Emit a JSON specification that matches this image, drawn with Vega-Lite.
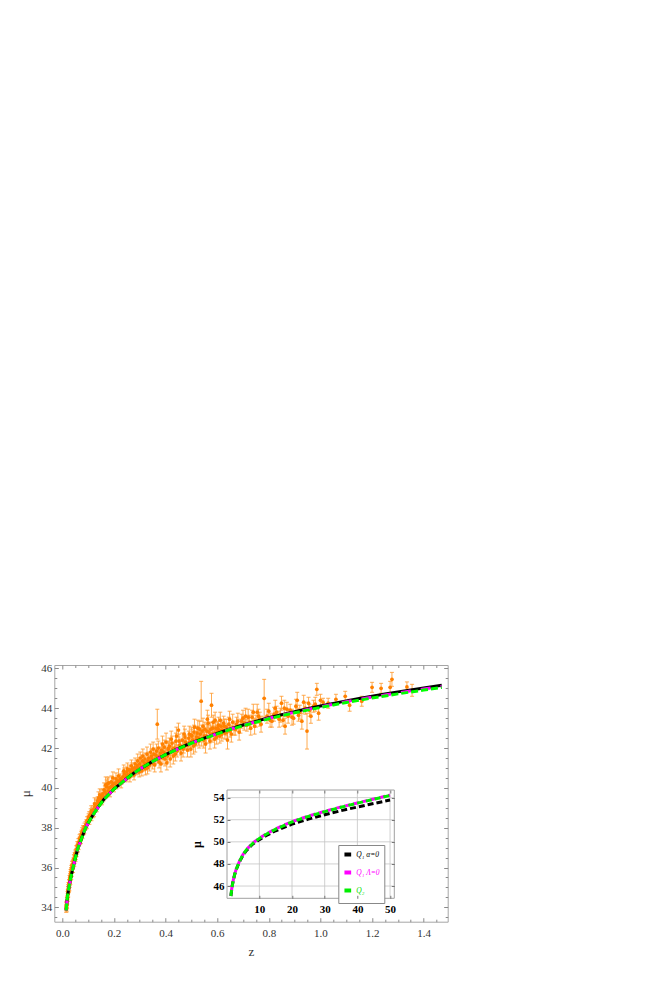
{
  "$schema": "https://vega.github.io/schema/vega-lite/v6.json",
  "width": 393.4,
  "height": 256.7,
  "autosize": "none",
  "padding": {"left": 54.3, "top": 665, "right": 206.3, "bottom": 59.3},
  "background": "white",
  "config": {
    "view": {"stroke": "#a6a6a6", "strokeWidth": 1},
    "font": "Liberation Serif",
    "axis": {"grid": false, "domain": false, "labelFlush": false, "labelOverlap": false, "tickColor": "#8a8a8a", "labelColor": "#333333", "titleColor": "#333333", "labelFont": "Liberation Serif", "titleFont": "Liberation Serif", "labelFontSize": 11, "titleFontSize": 13, "titleFontWeight": "normal"}
  },
  "datasets": {
    "pts": [
      {"z":0.015,"mu":33.95,"e":0.2},{"z":0.016,"mu":34.1,"e":0.2},{"z":0.017,"mu":34.0,"e":0.22},{"z":0.018,"mu":34.3,"e":0.2},{"z":0.019,"mu":34.35,"e":0.18},
      {"z":0.02,"mu":34.6,"e":0.2},{"z":0.021,"mu":34.5,"e":0.2},{"z":0.022,"mu":34.85,"e":0.2},{"z":0.023,"mu":34.7,"e":0.18},{"z":0.024,"mu":35.05,"e":0.2},
      {"z":0.025,"mu":34.95,"e":0.2},{"z":0.026,"mu":35.2,"e":0.18},{"z":0.027,"mu":35.05,"e":0.2},{"z":0.028,"mu":35.4,"e":0.2},{"z":0.029,"mu":35.3,"e":0.2},
      {"z":0.03,"mu":35.5,"e":0.18},{"z":0.031,"mu":35.35,"e":0.2},{"z":0.032,"mu":35.7,"e":0.2},{"z":0.033,"mu":35.55,"e":0.18},{"z":0.034,"mu":35.8,"e":0.2},
      {"z":0.035,"mu":35.9,"e":0.2},{"z":0.036,"mu":35.75,"e":0.2},{"z":0.037,"mu":36.0,"e":0.18},{"z":0.038,"mu":36.1,"e":0.2},{"z":0.04,"mu":36.15,"e":0.2},
      {"z":0.041,"mu":35.95,"e":0.2},{"z":0.043,"mu":36.3,"e":0.18},{"z":0.045,"mu":36.45,"e":0.2},{"z":0.046,"mu":36.25,"e":0.2},{"z":0.048,"mu":36.55,"e":0.2},
      {"z":0.05,"mu":36.7,"e":0.18},{"z":0.052,"mu":36.6,"e":0.2},{"z":0.054,"mu":36.9,"e":0.2},{"z":0.056,"mu":36.85,"e":0.18},{"z":0.058,"mu":37.1,"e":0.2},
      {"z":0.06,"mu":37.0,"e":0.2},{"z":0.062,"mu":37.25,"e":0.2},{"z":0.065,"mu":37.3,"e":0.18},{"z":0.067,"mu":37.45,"e":0.2},{"z":0.07,"mu":37.5,"e":0.2},
      {"z":0.072,"mu":37.4,"e":0.2},{"z":0.075,"mu":37.7,"e":0.18},{"z":0.078,"mu":37.65,"e":0.2},{"z":0.08,"mu":37.9,"e":0.2},{"z":0.083,"mu":37.85,"e":0.2},
      {"z":0.086,"mu":38.05,"e":0.18},{"z":0.09,"mu":38.1,"e":0.2},{"z":0.093,"mu":38.2,"e":0.2},{"z":0.096,"mu":38.35,"e":0.2},{"z":0.1,"mu":38.4,"e":0.18},
      {"z":0.0155,"mu":34.05,"e":0.2},{"z":0.0185,"mu":34.15,"e":0.2},{"z":0.0215,"mu":34.7,"e":0.2},{"z":0.0235,"mu":34.95,"e":0.2},{"z":0.0265,"mu":35.0,"e":0.2},
      {"z":0.0285,"mu":35.2,"e":0.2},{"z":0.0315,"mu":35.6,"e":0.2},{"z":0.0345,"mu":35.6,"e":0.2},{"z":0.039,"mu":35.95,"e":0.2},{"z":0.042,"mu":36.2,"e":0.2},
      {"z":0.047,"mu":36.4,"e":0.2},{"z":0.051,"mu":36.5,"e":0.2},{"z":0.055,"mu":36.75,"e":0.2},{"z":0.059,"mu":36.95,"e":0.2},{"z":0.063,"mu":37.1,"e":0.2},
      {"z":0.068,"mu":37.35,"e":0.2},{"z":0.073,"mu":37.6,"e":0.2},{"z":0.077,"mu":37.8,"e":0.2},{"z":0.085,"mu":37.9,"e":0.2},{"z":0.095,"mu":38.15,"e":0.2},
      {"z":0.102,"mu":38.5,"e":0.2},{"z":0.105,"mu":38.35,"e":0.18},{"z":0.108,"mu":38.6,"e":0.2},{"z":0.11,"mu":38.7,"e":0.25},{"z":0.113,"mu":38.55,"e":0.2},
      {"z":0.116,"mu":38.8,"e":0.2},{"z":0.12,"mu":38.9,"e":0.2},{"z":0.123,"mu":38.75,"e":0.2},{"z":0.126,"mu":39.05,"e":0.2},{"z":0.13,"mu":39.15,"e":0.25},
      {"z":0.133,"mu":39.0,"e":0.2},{"z":0.137,"mu":39.35,"e":0.2},{"z":0.14,"mu":39.5,"e":0.3},{"z":0.143,"mu":39.3,"e":0.2},{"z":0.147,"mu":39.45,"e":0.2},
      {"z":0.15,"mu":39.6,"e":0.3},{"z":0.153,"mu":39.35,"e":0.2},{"z":0.157,"mu":39.7,"e":0.25},{"z":0.16,"mu":39.55,"e":0.2},{"z":0.165,"mu":39.8,"e":0.3},
      {"z":0.17,"mu":39.7,"e":0.2},{"z":0.172,"mu":40.05,"e":0.35},{"z":0.175,"mu":40.2,"e":0.3},{"z":0.178,"mu":39.85,"e":0.2},{"z":0.182,"mu":40.0,"e":0.25},
      {"z":0.185,"mu":39.75,"e":0.2},{"z":0.19,"mu":40.3,"e":0.3},{"z":0.193,"mu":40.1,"e":0.25},{"z":0.196,"mu":40.5,"e":0.3},{"z":0.2,"mu":40.0,"e":0.2},
      {"z":0.205,"mu":40.25,"e":0.25},{"z":0.21,"mu":40.15,"e":0.2},{"z":0.215,"mu":40.35,"e":0.25},{"z":0.22,"mu":40.3,"e":0.2},{"z":0.225,"mu":40.45,"e":0.25},
      {"z":0.23,"mu":40.4,"e":0.2},{"z":0.235,"mu":40.55,"e":0.25},{"z":0.24,"mu":40.7,"e":0.3},{"z":0.245,"mu":40.5,"e":0.2},{"z":0.25,"mu":40.8,"e":0.25},
      {"z":0.255,"mu":40.65,"e":0.2},{"z":0.26,"mu":40.9,"e":0.25},{"z":0.265,"mu":40.75,"e":0.2},{"z":0.27,"mu":40.95,"e":0.3},{"z":0.275,"mu":40.8,"e":0.25},
      {"z":0.28,"mu":41.0,"e":0.25},{"z":0.285,"mu":40.85,"e":0.2},{"z":0.29,"mu":41.1,"e":0.3},{"z":0.295,"mu":40.95,"e":0.25},{"z":0.3,"mu":41.2,"e":0.3},
      {"z":0.104,"mu":38.6,"e":0.2},{"z":0.112,"mu":38.85,"e":0.25},{"z":0.118,"mu":38.7,"e":0.2},{"z":0.125,"mu":39.2,"e":0.3},{"z":0.135,"mu":39.2,"e":0.25},
      {"z":0.145,"mu":39.65,"e":0.3},{"z":0.155,"mu":39.5,"e":0.25},{"z":0.162,"mu":39.9,"e":0.35},{"z":0.168,"mu":40.15,"e":0.4},{"z":0.18,"mu":40.25,"e":0.3},
      {"z":0.188,"mu":40.05,"e":0.25},{"z":0.198,"mu":40.2,"e":0.3},{"z":0.208,"mu":40.45,"e":0.3},{"z":0.218,"mu":40.6,"e":0.35},{"z":0.228,"mu":40.25,"e":0.25},
      {"z":0.238,"mu":40.85,"e":0.3},{"z":0.248,"mu":40.6,"e":0.25},{"z":0.252,"mu":40.95,"e":0.3},{"z":0.262,"mu":40.55,"e":0.25},{"z":0.268,"mu":41.1,"e":0.3},
      {"z":0.278,"mu":40.65,"e":0.25},{"z":0.282,"mu":41.2,"e":0.3},{"z":0.288,"mu":40.95,"e":0.25},{"z":0.292,"mu":41.35,"e":0.35},{"z":0.298,"mu":40.8,"e":0.25},
      {"z":0.305,"mu":41.05,"e":0.25},{"z":0.31,"mu":41.35,"e":0.3},{"z":0.315,"mu":41.1,"e":0.25},{"z":0.32,"mu":41.45,"e":0.3},{"z":0.325,"mu":41.2,"e":0.25},
      {"z":0.33,"mu":41.0,"e":0.3},{"z":0.335,"mu":41.5,"e":0.3},{"z":0.34,"mu":41.3,"e":0.25},{"z":0.345,"mu":41.6,"e":0.35},{"z":0.35,"mu":41.25,"e":0.3},
      {"z":0.355,"mu":41.7,"e":0.3},{"z":0.36,"mu":41.45,"e":0.25},{"z":0.365,"mu":41.85,"e":0.35},{"z":0.368,"mu":43.2,"e":0.75},{"z":0.37,"mu":41.55,"e":0.3},
      {"z":0.375,"mu":41.3,"e":0.3},{"z":0.38,"mu":41.75,"e":0.3},{"z":0.385,"mu":41.9,"e":0.35},{"z":0.39,"mu":41.5,"e":0.3},{"z":0.395,"mu":42.05,"e":0.35},
      {"z":0.4,"mu":41.7,"e":0.3},{"z":0.405,"mu":41.25,"e":0.35},{"z":0.41,"mu":41.95,"e":0.3},{"z":0.415,"mu":42.1,"e":0.4},{"z":0.42,"mu":41.8,"e":0.3},
      {"z":0.425,"mu":42.25,"e":0.35},{"z":0.43,"mu":41.6,"e":0.4},{"z":0.435,"mu":42.0,"e":0.3},{"z":0.44,"mu":42.35,"e":0.4},{"z":0.445,"mu":41.85,"e":0.3},
      {"z":0.45,"mu":42.9,"e":0.35},{"z":0.455,"mu":42.15,"e":0.3},{"z":0.46,"mu":41.75,"e":0.4},{"z":0.465,"mu":42.4,"e":0.35},{"z":0.47,"mu":42.05,"e":0.3},
      {"z":0.475,"mu":42.55,"e":0.4},{"z":0.48,"mu":42.2,"e":0.3},{"z":0.485,"mu":41.9,"e":0.35},{"z":0.49,"mu":42.5,"e":0.35},{"z":0.495,"mu":42.3,"e":0.3},
      {"z":0.5,"mu":42.65,"e":0.4},
      {"z":0.302,"mu":41.5,"e":0.3},{"z":0.308,"mu":40.85,"e":0.25},{"z":0.312,"mu":41.6,"e":0.35},{"z":0.318,"mu":41.25,"e":0.3},{"z":0.322,"mu":40.95,"e":0.3},
      {"z":0.328,"mu":41.7,"e":0.35},{"z":0.332,"mu":41.35,"e":0.3},{"z":0.338,"mu":41.15,"e":0.3},{"z":0.342,"mu":41.8,"e":0.4},{"z":0.348,"mu":41.45,"e":0.3},
      {"z":0.352,"mu":41.95,"e":0.35},{"z":0.358,"mu":41.15,"e":0.35},{"z":0.362,"mu":41.65,"e":0.3},{"z":0.372,"mu":42.0,"e":0.35},{"z":0.378,"mu":41.6,"e":0.3},
      {"z":0.382,"mu":41.2,"e":0.4},{"z":0.388,"mu":42.2,"e":0.4},{"z":0.392,"mu":41.8,"e":0.3},{"z":0.398,"mu":41.45,"e":0.35},{"z":0.402,"mu":42.3,"e":0.45},
      {"z":0.408,"mu":41.6,"e":0.3},{"z":0.412,"mu":42.0,"e":0.35},{"z":0.418,"mu":41.45,"e":0.4},{"z":0.422,"mu":42.45,"e":0.4},{"z":0.428,"mu":41.95,"e":0.3},
      {"z":0.438,"mu":41.7,"e":0.35},{"z":0.442,"mu":42.6,"e":0.45},{"z":0.452,"mu":42.35,"e":0.35},{"z":0.458,"mu":42.0,"e":0.35},{"z":0.468,"mu":41.95,"e":0.4},
      {"z":0.472,"mu":42.7,"e":0.4},{"z":0.478,"mu":42.3,"e":0.35},{"z":0.488,"mu":42.15,"e":0.3},{"z":0.492,"mu":42.7,"e":0.4},{"z":0.498,"mu":41.95,"e":0.4},
      {"z":0.505,"mu":42.4,"e":0.3},{"z":0.51,"mu":42.8,"e":0.35},{"z":0.515,"mu":42.2,"e":0.4},{"z":0.52,"mu":42.55,"e":0.3},
      {"z":0.525,"mu":43.0,"e":0.4},{"z":0.53,"mu":42.35,"e":0.35},{"z":0.535,"mu":42.7,"e":0.3},{"z":0.538,"mu":44.35,"e":1.0},{"z":0.54,"mu":42.45,"e":0.35},
      {"z":0.545,"mu":43.1,"e":0.4},{"z":0.55,"mu":42.6,"e":0.3},{"z":0.555,"mu":42.2,"e":0.45},{"z":0.56,"mu":42.85,"e":0.35},{"z":0.565,"mu":43.25,"e":0.4},
      {"z":0.57,"mu":42.55,"e":0.3},{"z":0.575,"mu":42.95,"e":0.35},{"z":0.578,"mu":44.15,"e":0.6},{"z":0.58,"mu":42.7,"e":0.4},{"z":0.585,"mu":43.3,"e":0.35},
      {"z":0.59,"mu":42.45,"e":0.45},{"z":0.595,"mu":43.0,"e":0.3},{"z":0.6,"mu":42.8,"e":0.35},{"z":0.605,"mu":43.15,"e":0.4},{"z":0.61,"mu":42.6,"e":0.35},
      {"z":0.615,"mu":43.1,"e":0.3},{"z":0.62,"mu":42.9,"e":0.4},{"z":0.625,"mu":43.25,"e":0.35},{"z":0.63,"mu":42.75,"e":0.3},{"z":0.635,"mu":43.05,"e":0.4},
      {"z":0.64,"mu":42.4,"e":0.45},{"z":0.645,"mu":43.2,"e":0.35},{"z":0.65,"mu":42.85,"e":0.3},{"z":0.66,"mu":43.3,"e":0.4},{"z":0.665,"mu":43.0,"e":0.35},
      {"z":0.67,"mu":42.95,"e":0.3},{"z":0.68,"mu":43.35,"e":0.4},{"z":0.69,"mu":43.1,"e":0.35},{"z":0.7,"mu":43.5,"e":0.4},
      {"z":0.502,"mu":42.6,"e":0.35},{"z":0.508,"mu":42.1,"e":0.4},{"z":0.512,"mu":43.05,"e":0.4},{"z":0.518,"mu":42.4,"e":0.3},{"z":0.522,"mu":42.75,"e":0.35},
      {"z":0.528,"mu":42.5,"e":0.35},{"z":0.532,"mu":42.95,"e":0.4},{"z":0.542,"mu":42.85,"e":0.3},{"z":0.548,"mu":42.4,"e":0.4},{"z":0.552,"mu":42.95,"e":0.35},
      {"z":0.558,"mu":42.6,"e":0.35},{"z":0.562,"mu":43.45,"e":0.45},{"z":0.568,"mu":42.8,"e":0.35},{"z":0.572,"mu":42.35,"e":0.4},{"z":0.582,"mu":43.0,"e":0.3},
      {"z":0.588,"mu":42.75,"e":0.35},{"z":0.592,"mu":43.4,"e":0.4},{"z":0.598,"mu":42.55,"e":0.35},{"z":0.602,"mu":43.0,"e":0.35},{"z":0.608,"mu":42.9,"e":0.3},
      {"z":0.612,"mu":43.4,"e":0.4},{"z":0.618,"mu":42.7,"e":0.35},{"z":0.628,"mu":43.1,"e":0.35},{"z":0.638,"mu":42.8,"e":0.35},{"z":0.648,"mu":43.45,"e":0.4},
      {"z":0.655,"mu":42.7,"e":0.4},{"z":0.675,"mu":43.2,"e":0.35},{"z":0.685,"mu":42.8,"e":0.4},{"z":0.695,"mu":43.35,"e":0.35},
      {"z":0.705,"mu":43.25,"e":0.35},{"z":0.715,"mu":43.15,"e":0.3},{"z":0.72,"mu":43.55,"e":0.4},{"z":0.73,"mu":43.0,"e":0.35},{"z":0.74,"mu":43.8,"e":0.4},
      {"z":0.75,"mu":43.35,"e":0.3},{"z":0.76,"mu":43.6,"e":0.35},{"z":0.77,"mu":43.2,"e":0.4},{"z":0.782,"mu":44.5,"e":0.95},{"z":0.793,"mu":43.6,"e":0.35},
      {"z":0.8,"mu":43.85,"e":0.4},{"z":0.812,"mu":43.35,"e":0.3},{"z":0.82,"mu":43.7,"e":0.35},{"z":0.83,"mu":43.8,"e":0.3},{"z":0.84,"mu":43.45,"e":0.4},
      {"z":0.849,"mu":44.25,"e":0.35},{"z":0.855,"mu":43.4,"e":0.3},{"z":0.863,"mu":43.1,"e":0.4},{"z":0.87,"mu":43.95,"e":0.35},{"z":0.883,"mu":43.9,"e":0.3},
      {"z":0.89,"mu":43.55,"e":0.4},{"z":0.896,"mu":43.5,"e":0.3},{"z":0.905,"mu":44.1,"e":0.35},{"z":0.915,"mu":43.65,"e":0.3},{"z":0.928,"mu":43.35,"e":0.4},
      {"z":0.935,"mu":44.3,"e":0.35},{"z":0.941,"mu":44.0,"e":0.3},{"z":0.948,"mu":42.85,"e":0.9},{"z":0.954,"mu":44.25,"e":0.3},{"z":0.963,"mu":43.6,"e":0.35},
      {"z":0.973,"mu":44.1,"e":0.3},{"z":0.986,"mu":44.95,"e":0.3},{"z":0.993,"mu":43.75,"e":0.35},{"z":1.0,"mu":44.4,"e":0.3},
      {"z":0.71,"mu":43.6,"e":0.4},{"z":0.725,"mu":43.3,"e":0.35},{"z":0.735,"mu":43.55,"e":0.35},{"z":0.745,"mu":43.1,"e":0.4},{"z":0.755,"mu":43.8,"e":0.4},
      {"z":0.765,"mu":43.45,"e":0.35},{"z":0.805,"mu":43.4,"e":0.35},{"z":0.825,"mu":44.0,"e":0.4},{"z":0.845,"mu":43.65,"e":0.35},{"z":0.86,"mu":44.0,"e":0.4},
      {"z":0.875,"mu":43.6,"e":0.35},{"z":0.91,"mu":44.4,"e":0.4},{"z":0.92,"mu":43.8,"e":0.35},{"z":0.958,"mu":43.9,"e":0.3},{"z":0.98,"mu":44.2,"e":0.35},
      {"z":1.01,"mu":44.3,"e":0.2},{"z":1.03,"mu":44.25,"e":0.25},{"z":1.06,"mu":44.45,"e":0.25},{"z":1.096,"mu":44.6,"e":0.25},{"z":1.113,"mu":44.15,"e":0.3},
      {"z":1.16,"mu":44.35,"e":0.25},{"z":1.2,"mu":45.05,"e":0.25},{"z":1.235,"mu":45.0,"e":0.25},{"z":1.27,"mu":45.05,"e":0.3},{"z":1.277,"mu":45.45,"e":0.35},
      {"z":1.335,"mu":45.07,"e":0.25},{"z":1.355,"mu":44.9,"e":0.3}
    ],
    "mc": [
      {"z":0.015,"k":33.85,"m":33.85,"g":33.85},{"z":0.0175,"k":34.25,"m":34.25,"g":34.25},{"z":0.02,"k":34.55,"m":34.55,"g":34.55},
      {"z":0.025,"k":34.95,"m":34.95,"g":34.95},{"z":0.03,"k":35.3,"m":35.3,"g":35.3},{"z":0.035,"k":35.62,"m":35.62,"g":35.62},
      {"z":0.04,"k":35.9,"m":35.9,"g":35.9},{"z":0.045,"k":36.17,"m":36.17,"g":36.17},{"z":0.05,"k":36.45,"m":36.45,"g":36.45},
      {"z":0.06,"k":36.95,"m":36.95,"g":36.95},{"z":0.07,"k":37.3,"m":37.3,"g":37.3},{"z":0.08,"k":37.65,"m":37.65,"g":37.65},
      {"z":0.09,"k":37.98,"m":37.98,"g":37.98},{"z":0.1,"k":38.22,"m":38.22,"g":38.22},{"z":0.11,"k":38.45,"m":38.45,"g":38.45},
      {"z":0.12,"k":38.66,"m":38.66,"g":38.66},{"z":0.14,"k":39.05,"m":39.05,"g":39.05},{"z":0.16,"k":39.4,"m":39.4,"g":39.4},
      {"z":0.18,"k":39.67,"m":39.67,"g":39.67},{"z":0.2,"k":39.94,"m":39.94,"g":39.94},{"z":0.225,"k":40.2,"m":40.2,"g":40.2},
      {"z":0.25,"k":40.47,"m":40.47,"g":40.47},{"z":0.275,"k":40.72,"m":40.72,"g":40.72},{"z":0.3,"k":40.94,"m":40.94,"g":40.94},
      {"z":0.35,"k":41.33,"m":41.33,"g":41.33},{"z":0.4,"k":41.67,"m":41.67,"g":41.67},{"z":0.45,"k":41.98,"m":41.975,"g":41.97},
      {"z":0.5,"k":42.26,"m":42.25,"g":42.24},{"z":0.55,"k":42.5,"m":42.49,"g":42.48},{"z":0.6,"k":42.74,"m":42.725,"g":42.71},
      {"z":0.65,"k":42.96,"m":42.945,"g":42.93},{"z":0.7,"k":43.16,"m":43.14,"g":43.12},{"z":0.75,"k":43.34,"m":43.32,"g":43.295},
      {"z":0.8,"k":43.52,"m":43.495,"g":43.47},{"z":0.85,"k":43.68,"m":43.65,"g":43.625},{"z":0.9,"k":43.83,"m":43.8,"g":43.77},
      {"z":0.95,"k":43.97,"m":43.94,"g":43.905},{"z":1.0,"k":44.11,"m":44.075,"g":44.04},{"z":1.05,"k":44.24,"m":44.2,"g":44.165},
      {"z":1.1,"k":44.37,"m":44.33,"g":44.29},{"z":1.15,"k":44.49,"m":44.45,"g":44.405},{"z":1.2,"k":44.6,"m":44.555,"g":44.51},
      {"z":1.25,"k":44.71,"m":44.66,"g":44.615},{"z":1.3,"k":44.82,"m":44.77,"g":44.72},{"z":1.35,"k":44.92,"m":44.87,"g":44.815},
      {"z":1.4,"k":45.02,"m":44.965,"g":44.91},{"z":1.47,"k":45.15,"m":45.095,"g":45.04}
    ],
    "ic": [
      {"x":1.3,"k":45.1,"m":45.12,"g":45.1},{"x":1.6,"k":45.85,"m":45.87,"g":45.85},{"x":2,"k":46.5,"m":46.52,"g":46.5},
      {"x":2.5,"k":47.1,"m":47.12,"g":47.1},{"x":3,"k":47.55,"m":47.6,"g":47.58},{"x":4,"k":48.25,"m":48.3,"g":48.28},
      {"x":5,"k":48.8,"m":48.86,"g":48.84},{"x":6,"k":49.2,"m":49.28,"g":49.26},{"x":8,"k":49.8,"m":49.9,"g":49.87},
      {"x":10,"k":50.2,"m":50.33,"g":50.3},{"x":12,"k":50.55,"m":50.7,"g":50.67},{"x":15,"k":51.0,"m":51.18,"g":51.15},
      {"x":20,"k":51.6,"m":51.83,"g":51.8},{"x":25,"k":52.05,"m":52.33,"g":52.3},{"x":30,"k":52.45,"m":52.76,"g":52.73},
      {"x":35,"k":52.82,"m":53.16,"g":53.13},{"x":40,"k":53.15,"m":53.52,"g":53.5},{"x":45,"k":53.47,"m":53.87,"g":53.85},
      {"x":50,"k":53.78,"m":54.23,"g":54.2}
    ],
    "gx": [{"v":10},{"v":20},{"v":30},{"v":40},{"v":50}],
    "gy": [{"v":46},{"v":48},{"v":50},{"v":52},{"v":54}]
  },
  "layer": [
    {
      "layer": [
        {
          "data": {"name": "pts"},
          "mark": {"type": "errorbar", "ticks": {"size": 4}, "color": "#ff9c33", "opacity": 0.85},
          "encoding": {
            "x": {"field": "z", "type": "quantitative", "scale": {"domain": [-0.031, 1.493], "nice": false, "zero": false}, "axis": null},
            "y": {"field": "mu", "type": "quantitative", "scale": {"domain": [33.28, 46.17], "nice": false, "zero": false}, "axis": null},
            "yError": {"field": "e"}
          }
        },
        {
          "data": {"name": "pts"},
          "mark": {"type": "circle", "size": 14, "color": "#ff8000", "opacity": 1},
          "encoding": {
            "x": {"field": "z", "type": "quantitative", "scale": {"domain": [-0.031, 1.493], "nice": false, "zero": false},
              "axis": {"orient": "bottom", "title": "z", "values": [0, 0.2, 0.4, 0.6, 0.8, 1.0, 1.2, 1.4], "format": ".1f", "tickSize": -4, "labelPadding": 10, "titlePadding": 7}},
            "y": {"field": "mu", "type": "quantitative", "scale": {"domain": [33.28, 46.17], "nice": false, "zero": false},
              "axis": {"orient": "left", "title": "μ", "values": [34, 36, 38, 40, 42, 44, 46], "tickSize": -4, "labelPadding": 6.6, "titlePadding": 8}}
          }
        },
        {
          "data": {"name": "mc"},
          "mark": {"type": "line", "color": "black", "strokeWidth": 3},
          "encoding": {
            "x": {"field": "z", "type": "quantitative", "scale": {"domain": [-0.031, 1.493], "nice": false, "zero": false},
              "axis": {"orient": "top", "title": null, "labels": false, "values": [0, 0.2, 0.4, 0.6, 0.8, 1.0, 1.2, 1.4], "tickSize": -4}},
            "y": {"field": "k", "type": "quantitative", "scale": {"domain": [33.28, 46.17], "nice": false, "zero": false},
              "axis": {"orient": "right", "title": null, "labels": false, "values": [34, 36, 38, 40, 42, 44, 46], "tickSize": -4}}
          }
        },
        {
          "data": {"name": "mc"},
          "mark": {"type": "line", "color": "#ff00ff", "strokeWidth": 3, "strokeDash": [10, 10]},
          "encoding": {
            "x": {"field": "z", "type": "quantitative", "scale": {"domain": [-0.031, 1.493], "nice": false, "zero": false},
              "axis": {"orient": "bottom", "title": null, "labels": false, "values": [0.05, 0.1, 0.15, 0.25, 0.3, 0.35, 0.45, 0.5, 0.55, 0.65, 0.7, 0.75, 0.85, 0.9, 0.95, 1.05, 1.1, 1.15, 1.25, 1.3, 1.35, 1.45], "tickSize": -2.5}},
            "y": {"field": "m", "type": "quantitative", "scale": {"domain": [33.28, 46.17], "nice": false, "zero": false},
              "axis": {"orient": "left", "title": null, "labels": false, "values": [33.5, 34.5, 35, 35.5, 36.5, 37, 37.5, 38.5, 39, 39.5, 40.5, 41, 41.5, 42.5, 43, 43.5, 44.5, 45, 45.5], "tickSize": -2.5}}
          }
        },
        {
          "data": {"name": "mc"},
          "mark": {"type": "line", "color": "#00ff00", "strokeWidth": 3, "strokeDash": [7, 3]},
          "encoding": {
            "x": {"field": "z", "type": "quantitative", "scale": {"domain": [-0.031, 1.493], "nice": false, "zero": false},
              "axis": {"orient": "top", "title": null, "labels": false, "values": [0.05, 0.1, 0.15, 0.25, 0.3, 0.35, 0.45, 0.5, 0.55, 0.65, 0.7, 0.75, 0.85, 0.9, 0.95, 1.05, 1.1, 1.15, 1.25, 1.3, 1.35, 1.45], "tickSize": -2.5}},
            "y": {"field": "g", "type": "quantitative", "scale": {"domain": [33.28, 46.17], "nice": false, "zero": false},
              "axis": {"orient": "right", "title": null, "labels": false, "values": [33.5, 34.5, 35, 35.5, 36.5, 37, 37.5, 38.5, 39, 39.5, 40.5, 41, 41.5, 42.5, 43, 43.5, 44.5, 45, 45.5], "tickSize": -2.5}}
          }
        }
      ],
      "resolve": {"axis": {"x": "independent", "y": "independent"}}
    },
    {
      "layer": [
        {
          "data": {"values": [{}]},
          "mark": {"type": "rect", "fill": "white", "stroke": "#a0a0a0", "strokeWidth": 1},
          "encoding": {
            "x": {"datum": 0.1, "type": "quantitative", "scale": {"domain": [0.1, 51.3], "range": [172.7, 340], "nice": false, "zero": false}, "axis": null},
            "x2": {"datum": 51.3},
            "y": {"datum": 44.89, "type": "quantitative", "scale": {"domain": [44.89, 54.69], "range": [233.3, 125], "nice": false, "zero": false}, "axis": null},
            "y2": {"datum": 54.69}
          }
        },
        {
          "data": {"name": "gx"},
          "mark": {"type": "rule", "color": "#c4c4c4", "strokeWidth": 0.8},
          "encoding": {
            "x": {"field": "v", "type": "quantitative", "scale": {"domain": [0.1, 51.3], "range": [172.7, 340], "nice": false, "zero": false}, "axis": null},
            "y": {"datum": 44.89, "type": "quantitative", "scale": {"domain": [44.89, 54.69], "range": [233.3, 125], "nice": false, "zero": false}, "axis": null},
            "y2": {"datum": 54.69}
          }
        },
        {
          "data": {"name": "gy"},
          "mark": {"type": "rule", "color": "#c4c4c4", "strokeWidth": 0.8},
          "encoding": {
            "y": {"field": "v", "type": "quantitative", "scale": {"domain": [44.89, 54.69], "range": [233.3, 125], "nice": false, "zero": false}, "axis": null},
            "x": {"datum": 0.1, "type": "quantitative", "scale": {"domain": [0.1, 51.3], "range": [172.7, 340], "nice": false, "zero": false}, "axis": null},
            "x2": {"datum": 51.3}
          }
        },
        {
          "data": {"name": "ic"},
          "mark": {"type": "line", "strokeWidth": 3, "strokeDash": [6, 3]},
          "encoding": {
            "x": {"field": "x", "type": "quantitative", "scale": {"domain": [0.1, 51.3], "range": [172.7, 340], "nice": false, "zero": false},
              "axis": {"orient": "bottom", "offset": -23.4, "zindex": 1, "title": null, "values": [10, 20, 30, 40, 50], "tickSize": -3, "labelPadding": 8.5, "labelFontWeight": "bold", "labelColor": "black", "tickColor": "#777777"}},
            "y": {"field": "k", "type": "quantitative", "scale": {"domain": [44.89, 54.69], "range": [233.3, 125], "nice": false, "zero": false},
              "axis": {"orient": "left", "offset": -172.7, "zindex": 1, "title": "μ", "values": [46, 48, 50, 52, 54], "tickSize": -3, "labelPadding": 6, "labelFontWeight": "bold", "labelColor": "black", "tickColor": "#777777", "titleFontWeight": "bold", "titleColor": "black", "titleFontSize": 12, "titlePadding": 10}},
            "color": {"datum": "Q₁ α=0", "type": "nominal",
              "scale": {"domain": ["Q₁ α=0", "Q₁ Λ=0", "Q₂"], "range": ["#000000", "#ff00ff", "#00ee00"]},
              "legend": {"orient": "none", "legendX": 284, "legendY": 180, "title": null, "symbolType": "stroke", "symbolStrokeWidth": 4, "symbolSize": 45,
                "labelFont": "Liberation Serif", "labelFontStyle": "italic", "labelFontSize": 7.5, "labelOffset": 3, "strokeColor": "#888888", "fillColor": "white", "padding": 4, "rowPadding": 1,
                "encode": {"labels": {"update": {"fill": {"signal": "datum.value === 'Q₂' ? '#00dd00' : (indexof(datum.value, 'Λ') >= 0 ? '#ff00ff' : '#000000')"}}}}}}
          }
        },
        {
          "data": {"name": "ic"},
          "mark": {"type": "line", "strokeWidth": 3, "strokeDash": [6, 3], "strokeDashOffset": 4},
          "encoding": {
            "x": {"field": "x", "type": "quantitative", "scale": {"domain": [0.1, 51.3], "range": [172.7, 340], "nice": false, "zero": false},
              "axis": {"orient": "top", "offset": -125, "zindex": 1, "title": null, "labels": false, "values": [10, 20, 30, 40, 50], "tickSize": -3, "tickColor": "#777777"}},
            "y": {"field": "m", "type": "quantitative", "scale": {"domain": [44.89, 54.69], "range": [233.3, 125], "nice": false, "zero": false},
              "axis": {"orient": "right", "offset": -53.4, "zindex": 1, "title": null, "labels": false, "values": [46, 48, 50, 52, 54], "tickSize": -3, "tickColor": "#777777"}},
            "color": {"datum": "Q₁ Λ=0", "type": "nominal"}
          }
        },
        {
          "data": {"name": "ic"},
          "mark": {"type": "line", "strokeWidth": 3, "strokeDash": [6, 3]},
          "encoding": {
            "x": {"field": "x", "type": "quantitative", "scale": {"domain": [0.1, 51.3], "range": [172.7, 340], "nice": false, "zero": false}, "axis": null},
            "y": {"field": "g", "type": "quantitative", "scale": {"domain": [44.89, 54.69], "range": [233.3, 125], "nice": false, "zero": false}, "axis": null},
            "color": {"datum": "Q₂", "type": "nominal"}
          }
        }
      ],
      "resolve": {"axis": {"x": "independent", "y": "independent"}}
    }
  ],
  "resolve": {"scale": {"x": "independent", "y": "independent"}}
}
